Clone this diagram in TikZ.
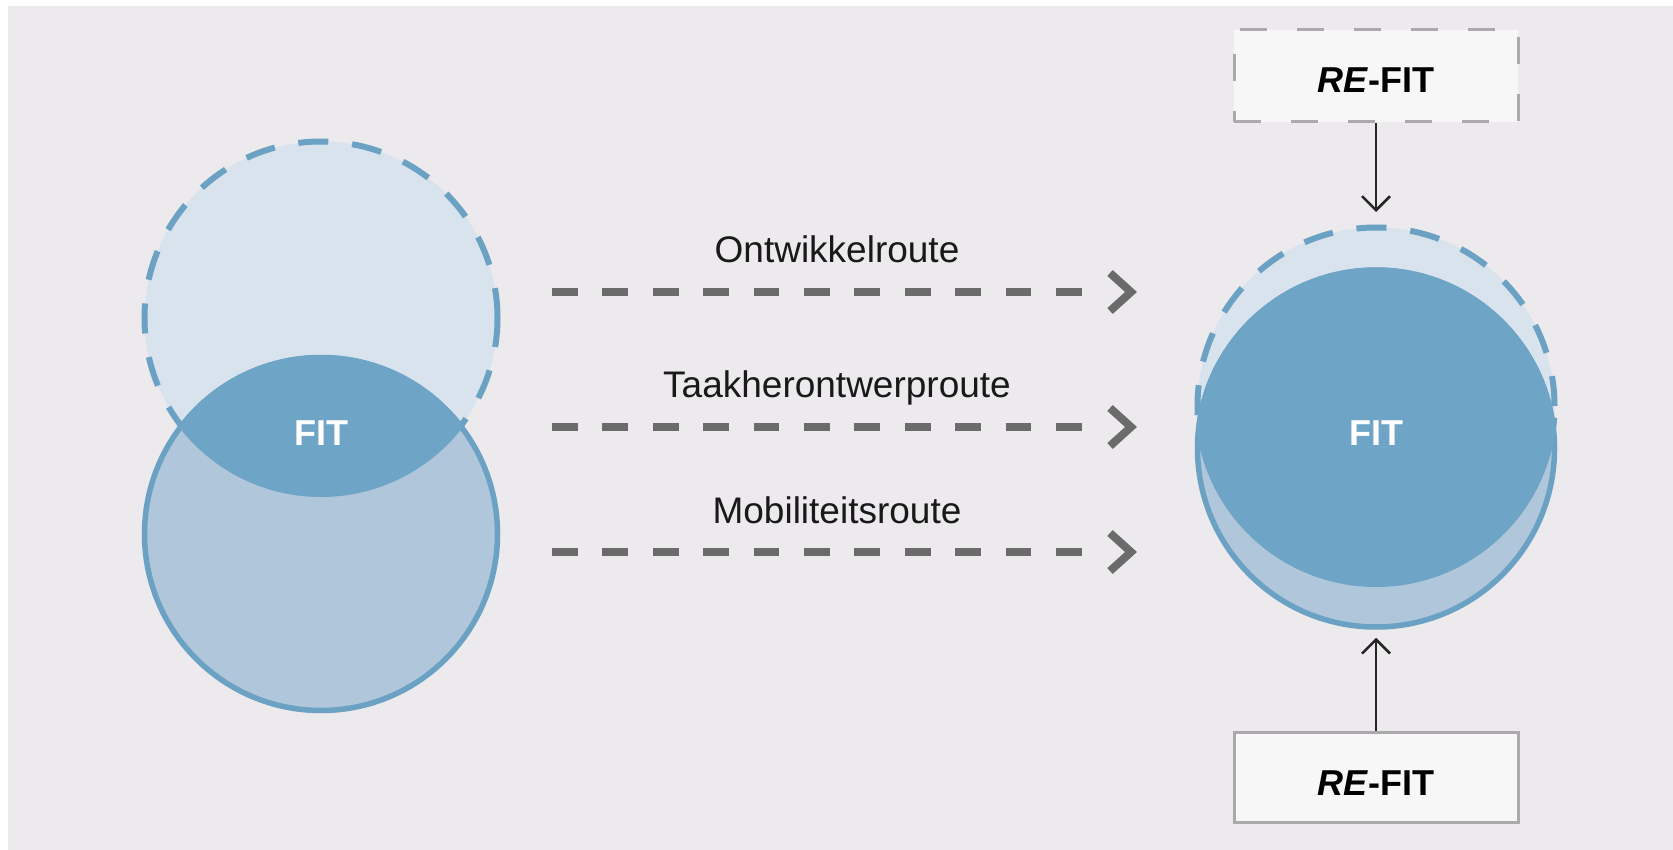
\documentclass[tikz,border=0pt]{standalone}
\usepackage{fontspec}
\setmainfont{Liberation Sans}
\usetikzlibrary{arrows.meta}
\definecolor{bg}{HTML}{ECEAED}
\definecolor{lightblue}{HTML}{D8E3ED}
\definecolor{midblue}{HTML}{B0C6DB}
\definecolor{darkblue}{HTML}{6EA4C6}
\definecolor{strokeblue}{HTML}{6BA2C4}
\definecolor{routegray}{HTML}{6B6B6B}
\definecolor{boxfill}{HTML}{F7F7F7}
\definecolor{boxline}{HTML}{ABA9AC}
\tikzset{
  dashcirc/.style={circle, inner sep=0pt, fill=lightblue, draw=strokeblue, line width=6pt, dash pattern=on 30pt off 24pt},
  solidcirc/.style={circle, inner sep=0pt, fill=midblue, draw=strokeblue, line width=5.5pt},
  fitlabel/.style={text=white, font=\fontsize{36}{40}\selectfont\bfseries, anchor=base},
  routelabel/.style={text=black!90, font=\fontsize{37}{42}\selectfont, anchor=base},
  routeline/.style={draw=routegray, line width=8pt, dash pattern=on 25.7pt off 24.7pt},
  chev/.style={draw=routegray, line width=8pt, line join=miter},
  refitbox/.style={minimum width=284pt, minimum height=92pt, inner sep=0pt, fill=boxfill, draw=boxline, line width=3pt},
  refittext/.style={font=\fontsize{36}{40}\selectfont\bfseries, anchor=base},
  thinarrow/.style={draw=black!85, line width=2.5pt, -{Straight Barb[length=14pt,width=28pt]}},
}
\begin{document}
\begin{tikzpicture}[x=1pt,y=-1pt]
\path[use as bounding box] (0,0) rectangle (1673,850);
\fill[white] (0,0) rectangle (1673,850);
\fill[bg] (8,6) rectangle (1673,850);

% left venn
\node[dashcirc, minimum size=353pt] (LT) at (321,318) {};
\node[solidcirc, minimum size=353pt] (LB) at (321,534) {};
\begin{scope}
  \clip (LT.center) circle[radius=179pt];
  \fill[darkblue] (LB.center) circle[radius=179pt];
\end{scope}
\node[fitlabel] (LF) at (321,445) {FIT};

% right circles
\node[dashcirc, minimum size=357pt] (RT) at (1376,406) {};
\node[solidcirc, minimum size=357pt] (RB) at (1376,448.5) {};
\begin{scope}
  \clip (RT.center) circle[radius=181pt];
  \fill[darkblue] (RB.center) circle[radius=181pt];
\end{scope}
\node[fitlabel] (RF) at (1376,445) {FIT};

% routes
\foreach \n/\y/\yl/\t in {1/292/263/Ontwikkelroute, 2/427/397/Taakherontwerproute, 3/552/523/Mobiliteitsroute}{
  \coordinate (s\n) at (552,\y);
  \coordinate (e\n) at (1131,\y);
  \coordinate (d\n) at (1083,\y);
  \draw[routeline] (s\n) -- (d\n);
  \draw[chev] ([shift={(-21pt,-19pt)}]e\n) -- (e\n) -- ([shift={(-21pt,19pt)}]e\n);
  \node[routelabel] (lab\n) at (837,\yl) {\t};
}

% RE-FIT boxes
\node[refitbox, dash pattern=on 27pt off 30pt, minimum height=92pt] (BT) at (1376,76) {};
\node[refittext] (BTt) at (1376,93) {\textit{RE}-FIT};
\node[refitbox, minimum height=90pt] (BB) at (1376,777) {};
\node[refittext] (BBt) at (1376,795) {\textit{RE}-FIT};

\draw[thinarrow, shorten >=12.5pt] (BT) -- (RT);
\draw[thinarrow, shorten >=8pt] (BB) -- (RB);
\end{tikzpicture}
\end{document}
